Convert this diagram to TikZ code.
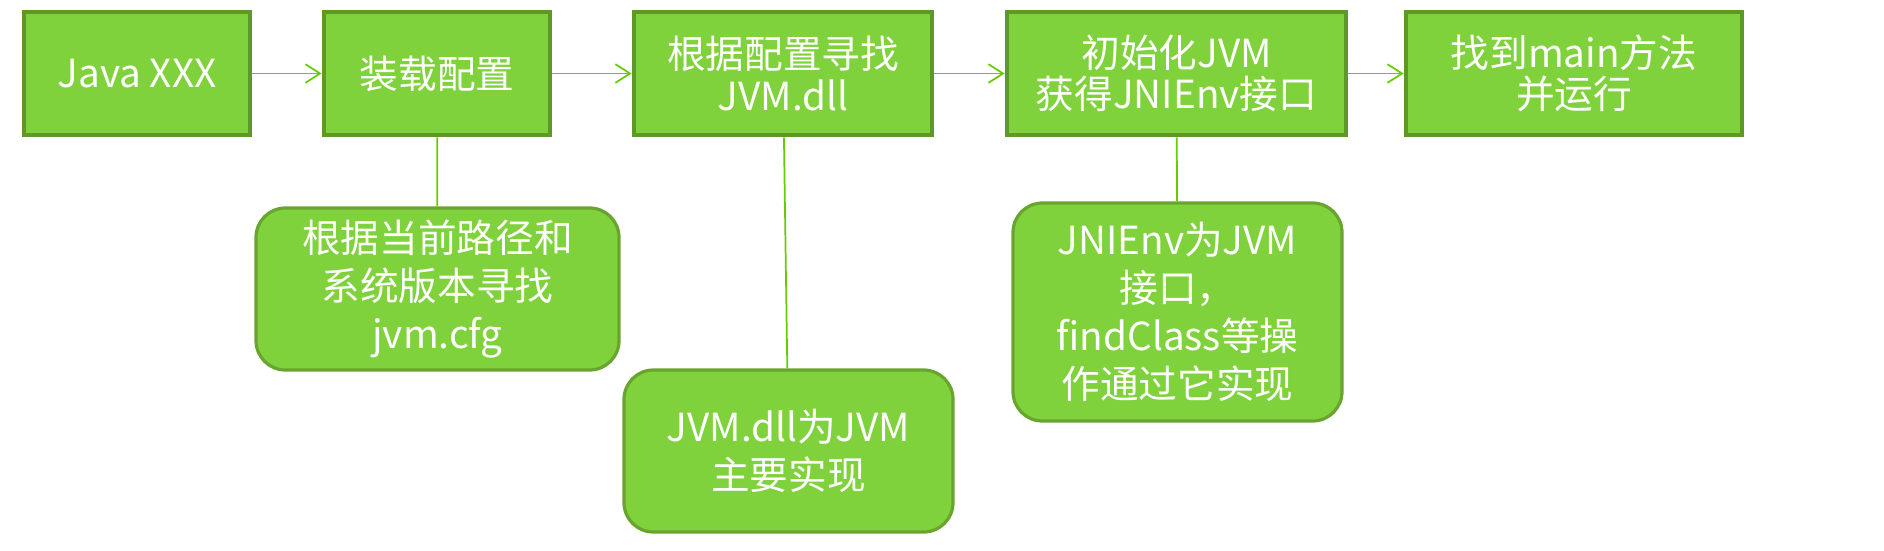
\documentclass[tikz,border=0pt]{standalone}
\usepackage{fontspec}
\setmainfont{Noto Sans CJK SC}
\usepackage{tikz}
\usetikzlibrary{arrows.meta}

\definecolor{boxfill}{RGB}{127,210,60}
\definecolor{boxline}{RGB}{94,153,40}
\definecolor{noteline}{RGB}{104,164,46}
\definecolor{linkgreen}{RGB}{102,204,0}

\begin{document}
\begin{tikzpicture}[x=0.75pt,y=-0.75pt,
	stepbox/.style={draw=boxline,line width=3.5pt,fill=boxfill,text=white,
		minimum height=123*0.75pt,inner sep=0pt,align=center,
		font=\fontsize{29}{31}\selectfont},
	notebox/.style={draw=noteline,line width=2.4pt,fill=boxfill,text=white,
		rounded corners=22pt,inner sep=0pt,align=center,
		font=\fontsize{29}{36}\selectfont},
	arrow/.style={draw=linkgreen,line width=1.3pt,-{Straight Barb[length=11pt,width=14pt,line width=1.3pt]}},
	link/.style={draw=linkgreen,line width=1.3pt}]
	\useasboundingbox (0,0) rectangle (1884,550);
	
	\node[stepbox,minimum width=226*0.75pt] (java) at (137,73.5) {Java XXX};
	\node[stepbox,minimum width=226*0.75pt] (load) at (437,73.5) {装载配置};
	\node[stepbox,minimum width=298*0.75pt] (find) at (783,73.5) {根据配置寻找\\JVM.dll};
	\node[stepbox,minimum width=339*0.75pt] (init) at (1176.5,73.5) {初始化JVM\\获得JNIEnv接口};
	\node[stepbox,minimum width=336*0.75pt] (run) at (1574,73.5) {找到main方法\\并运行};
	
	\foreach \a/\b in {java/load,load/find,find/init,init/run}
	\draw[arrow] (\a) -- (\b);
	
	\node[notebox,minimum width=363*0.75pt,minimum height=162*0.75pt] (cfg) at (437.5,289) {根据当前路径和\\系统版本寻找\\jvm.cfg};
	\node[notebox,minimum width=329*0.75pt,minimum height=162*0.75pt] (dll) at (788.5,451) {JVM.dll为JVM\\主要实现};
	\node[notebox,minimum width=329*0.75pt,minimum height=218*0.75pt] (env) at (1177.5,312) {JNIEnv为JVM\\接口，\\findClass等操\\作通过它实现};
	
	\draw[link] (load) -- (cfg);
	\draw[link] (find) -- (dll);
	\draw[link] (init) -- (env);
\end{tikzpicture}
\end{document}
